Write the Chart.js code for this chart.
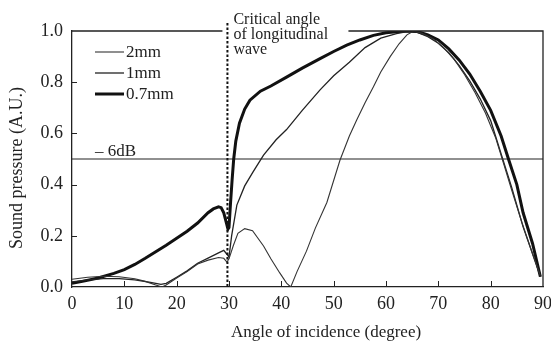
<!DOCTYPE html>
<html>
<head>
<meta charset="utf-8">
<script src="https://cdn.jsdelivr.net/npm/chart.js@4"></script>
<style>
html, body { margin: 0; padding: 0; background: #fff; }
#wrap { width: 551px; height: 343px; }
</style>
</head>
<body>
<div id="wrap"><canvas id="chart" width="551" height="343"></canvas></div>
<script>
// values
const seriesLabels = ["2mm", "1mm", "0.7mm"];

const angle2mm = [0,3,6,9,12,14,16,17.2,18,20,22,24,26,28,29,29.6,30,30.8,31.7,33,34.5,36.6,38,39.7,41,41.8,43,44.8,46.5,48.7,51.2,53,54.4,56,57.6,59,60.8,62.5,64,65.3,67,69,71,73,75,77,79,81,82.5,84,86,88,89.5];
const pressure2mm = [0.03,0.038,0.042,0.04,0.032,0.022,0.008,0.0,0.008,0.035,0.06,0.09,0.105,0.115,0.112,0.097,0.11,0.16,0.21,0.228,0.22,0.16,0.11,0.055,0.015,0.0,0.06,0.14,0.23,0.33,0.495,0.59,0.652,0.72,0.782,0.84,0.9,0.95,0.985,1.0,0.99,0.97,0.935,0.89,0.83,0.76,0.68,0.58,0.48,0.38,0.25,0.13,0.045];

const angle1mm = [0,3,6,9,12,15,17,18,20,22,24,26,28,29,29.6,30,30.5,31.5,33,34.6,36.6,39,41,44,47.4,50,53,56,59,62,64,66,68,70,72,74,76,78,80,82,84,86.2,88,89.5];
const pressure1mm = [0.02,0.028,0.033,0.033,0.028,0.018,0.01,0.014,0.038,0.063,0.093,0.113,0.133,0.143,0.128,0.117,0.2,0.32,0.395,0.45,0.515,0.575,0.615,0.69,0.77,0.825,0.878,0.935,0.972,0.99,0.998,0.995,0.978,0.952,0.915,0.865,0.805,0.735,0.65,0.52,0.39,0.235,0.13,0.04];

const angle07mm = [0,2,5,8,10,12,14,16,18,20,22,24,26,27,28,28.5,29,29.5,29.8,30,30.3,30.6,30.9,31.3,32,33,34,36,38,41,44,47.4,50,52.5,55,57.6,60,62,64,66,68,70,72,74,76,78,80,82,83.4,85,86.2,88,89.5];
const pressure07mm = [0.015,0.022,0.035,0.053,0.068,0.088,0.112,0.138,0.163,0.19,0.218,0.25,0.29,0.305,0.313,0.31,0.29,0.25,0.226,0.232,0.33,0.42,0.5,0.57,0.64,0.695,0.73,0.765,0.785,0.82,0.855,0.892,0.92,0.945,0.965,0.983,0.993,0.997,1.0,0.998,0.985,0.965,0.93,0.886,0.832,0.765,0.69,0.59,0.5,0.4,0.29,0.17,0.04];

const levelAngles = [0, 90];
const levelValues = [0.5, 0.5];   // -6dB
const criticalAngle = 29.7;
const annotationLines = ["Critical angle", "of longitudinal", "wave"];

const serif = "'Liberation Serif', 'Times New Roman', serif";

function points(xs, ys) {
    return xs.map((x, i) => ({ x: x, y: ys[i] }));
}

const decor = {
    id: "decor",
    afterDraw(chart) {
        const ctx = chart.ctx;
        const a = chart.chartArea;
        const x = chart.scales.x;
        const y = chart.scales.y;
        ctx.save();

        // top and right frame
        ctx.strokeStyle = "#222";
        ctx.lineWidth = 1.3;
        ctx.beginPath();
        ctx.moveTo(a.left, a.top);
        ctx.lineTo(a.right, a.top);
        ctx.lineTo(a.right, a.bottom);
        ctx.stroke();

        // inward ticks
        ctx.lineWidth = 1;
        ctx.beginPath();
        x.ticks.forEach(t => {
            if (t.value <= x.min || t.value >= x.max) return;
            const px = Math.round(x.getPixelForValue(t.value)) + 0.5;
            ctx.moveTo(px, a.bottom);
            ctx.lineTo(px, a.bottom - 6);
        });
        y.ticks.forEach(t => {
            if (t.value <= y.min || t.value >= y.max) return;
            const py = Math.round(y.getPixelForValue(t.value)) + 0.5;
            ctx.moveTo(a.left, py);
            ctx.lineTo(a.left + 5, py);
        });
        ctx.stroke();

        // gap in the frame behind the note
        const cx = x.getPixelForValue(criticalAngle);
        ctx.fillStyle = "#fff";
        ctx.fillRect(cx - 5, a.top - 4, 126, 8);

        // critical angle dotted line
        ctx.strokeStyle = "#111";
        ctx.lineWidth = 2;
        ctx.setLineDash([2.5, 2]);
        ctx.beginPath();
        ctx.moveTo(cx, a.top - 8);
        ctx.lineTo(cx, a.bottom);
        ctx.stroke();
        ctx.setLineDash([]);

        ctx.fillStyle = "#222";
        ctx.font = "16px " + serif;
        ctx.textAlign = "left";
        ctx.textBaseline = "alphabetic";
        annotationLines.forEach((s, i) => ctx.fillText(s, cx + 6, 24 + i * 15));

        // -6dB label
        ctx.font = "17px " + serif;
        ctx.fillText("\u2013 6dB", 95, 156);

        // legend
        chart.data.datasets.slice(0, 3).forEach((ds, i) => {
            const ly = 52 + i * 21;
            ctx.strokeStyle = ds.borderColor;
            ctx.lineWidth = ds.borderWidth;
            ctx.beginPath();
            ctx.moveTo(95, ly);
            ctx.lineTo(124, ly);
            ctx.stroke();
            ctx.fillStyle = "#222";
            ctx.fillText(ds.label, 126, ly + 5);
        });

        // axis titles
        ctx.font = "17px " + serif;
        ctx.textAlign = "center";
        ctx.fillText("Angle of incidence (degree)", 326, 337);
        ctx.translate(22, 168);
        ctx.rotate(-Math.PI / 2);
        ctx.font = "18px " + serif;
        ctx.fillText("Sound pressure (A.U.)", 0, 0);

        ctx.restore();
    }
};

new Chart(document.getElementById("chart"), {
    type: "line",
    data: {
        datasets: [
            { label: seriesLabels[0], data: points(angle2mm, pressure2mm), borderColor: "#333", borderWidth: 1.1 },
            { label: seriesLabels[1], data: points(angle1mm, pressure1mm), borderColor: "#222", borderWidth: 1.3 },
            { label: seriesLabels[2], data: points(angle07mm, pressure07mm), borderColor: "#111", borderWidth: 3 },
            { label: "-6dB", data: points(levelAngles, levelValues), borderColor: "#222", borderWidth: 1.2 }
        ]
    },
    options: {
        responsive: false,
        devicePixelRatio: 1,
        animation: false,
        layout: { padding: { top: 31, right: 8, left: 0, bottom: 0 } },
        elements: { point: { radius: 0 }, line: { tension: 0, fill: false } },
        plugins: { legend: { display: false }, tooltip: { enabled: false } },
        scales: {
            x: {
                type: "linear",
                min: 0,
                max: 90,
                ticks: { stepSize: 10, padding: 6, color: "#222", font: { family: serif, size: 18 } },
                grid: { display: false, drawTicks: false },
                border: { display: true, color: "#222", width: 1.3 },
                afterFit(scale) { scale.height = 56; scale.paddingLeft = 0; scale.paddingRight = 0; }
            },
            y: {
                min: 0,
                max: 1,
                ticks: { stepSize: 0.2, padding: 9, color: "#222", font: { family: serif, size: 18 },
                         callback: v => v.toFixed(1) },
                grid: { display: false, drawTicks: false },
                border: { display: true, color: "#222", width: 1.3 },
                afterFit(scale) { scale.width = 72; scale.paddingTop = 0; scale.paddingBottom = 0; }
            }
        }
    },
    plugins: [decor]
});
</script>
</body>
</html>
